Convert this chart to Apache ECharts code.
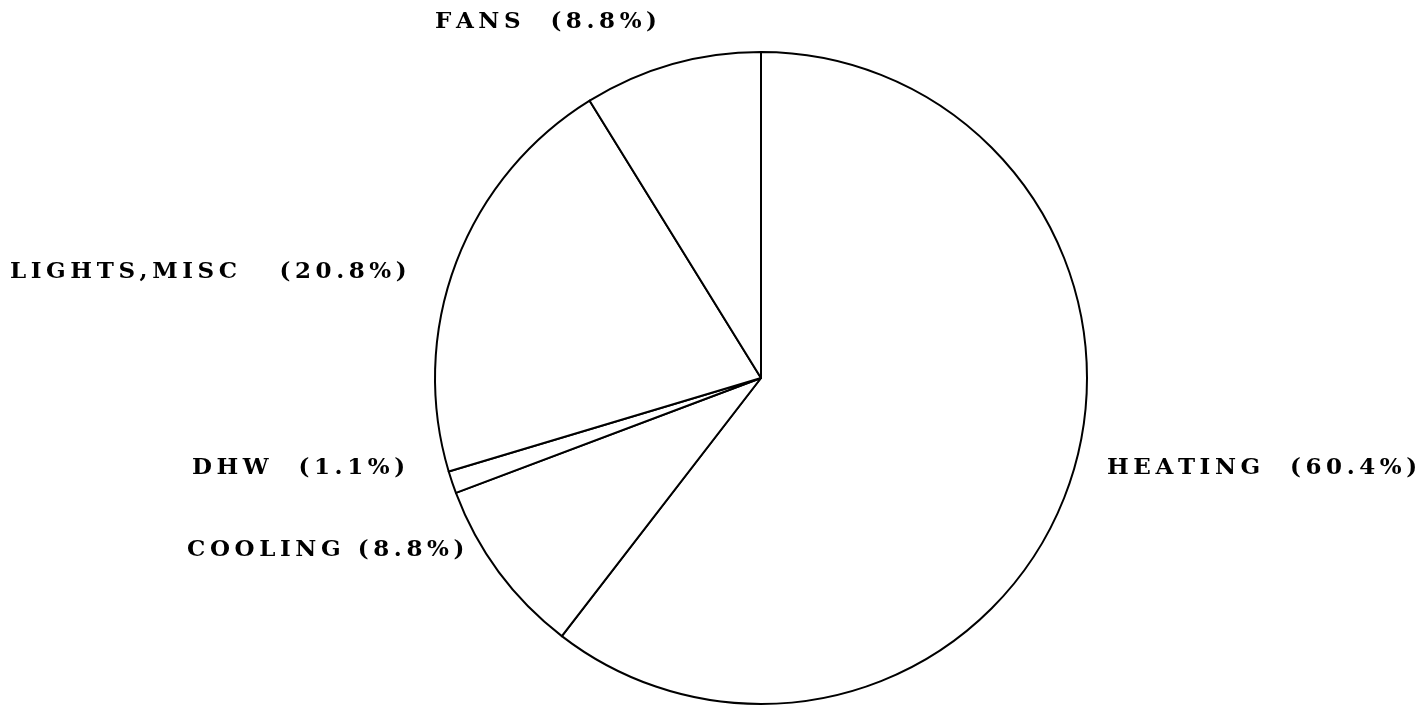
<!DOCTYPE html>
<html>
<head>
<meta charset="utf-8">
<script src="https://cdn.jsdelivr.net/npm/echarts@6/dist/echarts.min.js"></script>
<style>html,body{margin:0;padding:0;background:#fff}#c{width:1424px;height:708px}</style>
</head>
<body>
<div id="c"></div>
<script>
const categories = ['HEATING', 'COOLING', 'DHW', 'LIGHTS,MISC', 'FANS'];
const values = [60.4, 8.8, 1.1, 20.8, 8.8];

const labelGaps = ['  ', ' ', '  ', '   ', '  '];
const labelPos = [
  [1107, 468], [187, 550], [192, 468], [10, 272], [435, 22]
];

function spaced(s) { return s.split('').join('\u2009'); }

const chart = echarts.init(document.getElementById('c'));
chart.setOption({
  backgroundColor: '#ffffff',
  animation: false,
  series: [{
    type: 'pie',
    center: [761, 378],
    radius: 326,
    startAngle: 90,
    clockwise: true,
    data: categories.map((n, i) => ({ name: n, value: values[i] })),
    itemStyle: { color: '#ffffff', borderColor: '#000000', borderWidth: 2 },
    label: {
      show: true,
      position: 'outside',
      overflow: 'none',
      formatter: p => spaced(p.name + labelGaps[p.dataIndex] + '(' + p.value.toFixed(1) + '%)'),
      fontFamily: 'DejaVu Serif',
      fontWeight: 'bold',
      fontSize: 23,
      color: '#000000'
    },
    labelLine: { show: false },
    labelLayout: p => ({
      x: labelPos[p.dataIndex][0],
      y: labelPos[p.dataIndex][1],
      align: 'left',
      verticalAlign: 'middle',
      width: 600
    }),
    emphasis: { disabled: true }
  }]
});
</script>
</body>
</html>
